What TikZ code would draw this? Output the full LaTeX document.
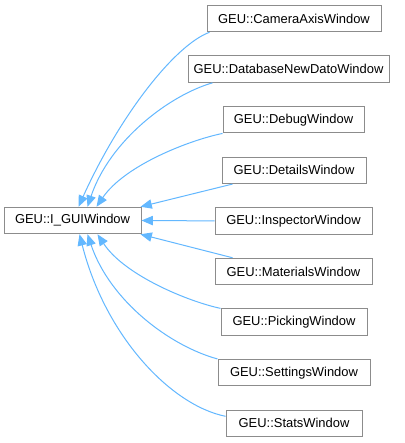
\documentclass[tikz,border=0pt]{standalone}
\usepackage{fontspec}
\setmainfont{Liberation Sans}
\usetikzlibrary{arrows.meta,calc}
\definecolor{boxgray}{HTML}{8C8C8C}
\definecolor{edgeblue}{HTML}{63B8FF}
\begin{document}
\begin{tikzpicture}[x=0.75pt,y=-0.75pt,
  cls/.style={draw=boxgray, line width=0.75pt, fill=white, inner sep=0pt,
    minimum height=26.5*0.75pt, font=\fontsize{9.7pt}{11pt}\selectfont},
  wd/.style={minimum width=#1*0.75pt},
  edge/.style={draw=edgeblue, line width=0.75pt,
    {Triangle[length=8.5pt,width=7pt,fill=edgeblue]}-}]
\useasboundingbox[fill=white] (0,0) rectangle (404,443);
\node[cls,wd=137] (base) at (72.5,220.5) {GEU::I\_GUIWindow};
\node[cls,wd=174] (cam) at (294,18.5) {GEU::CameraAxisWindow};
\node[cls,wd=201] (db) at (288.5,69.1) {GEU::DatabaseNewDatoWindow};
\node[cls,wd=141] (dbg) at (293.5,119.7) {GEU::DebugWindow};
\node[cls,wd=144] (det) at (294,170.3) {GEU::DetailsWindow};
\node[cls,wd=157] (ins) at (293.5,220.9) {GEU::InspectorWindow};
\node[cls,wd=157] (mat) at (293.5,271.5) {GEU::MaterialsWindow};
\node[cls,wd=146] (pick) at (294,322.1) {GEU::PickingWindow};
\node[cls,wd=152] (set) at (294,372.7) {GEU::SettingsWindow};
\node[cls,wd=136] (stat) at (294,423.3) {GEU::StatsWindow};
\draw[edge] ($(base.north west)+(75,0)$) .. controls (120,115) and (175,45) .. ($(cam.south west)+(3,0)$);
\draw[edge] ($(base.north west)+(84,0)$) .. controls (110,140) and (170,95) .. ($(db.south west)+(25,0)$);
\draw[edge] ($(base.north west)+(93,0)$) .. controls (125,165) and (190,140) .. (dbg.south west);
\draw[edge] ($(base.north east)+(-1,0)$) -- ($(det.south west)+(11,0)$);
\draw[edge] (base.east) -- (ins.west);
\draw[edge] ($(base.south east)+(-1,0)$) -- ($(mat.north west)+(18,0)$);
\draw[edge] ($(base.south west)+(94,0)$) .. controls (125,276) and (190,302) .. (pick.north west);
\draw[edge] ($(base.south west)+(84,0)$) .. controls (110,301) and (170,346) .. (set.north west);
\draw[edge] ($(base.south west)+(76,0)$) .. controls (105,335) and (170,405) .. ($(stat.west)+(0,-7)$);
\end{tikzpicture}
\end{document}
